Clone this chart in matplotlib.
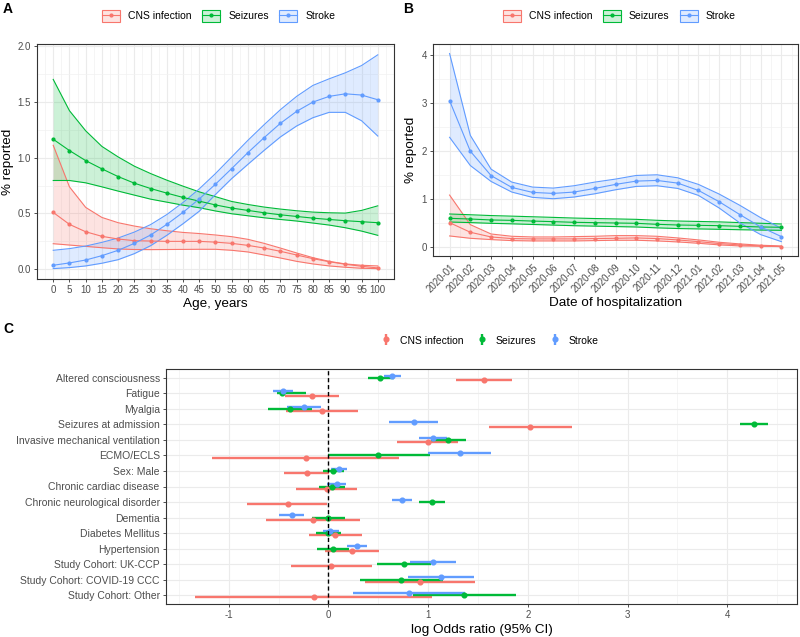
import numpy as np
import matplotlib.pyplot as plt
from matplotlib.lines import Line2D
from matplotlib.patches import Patch
from matplotlib.legend_handler import HandlerTuple
from matplotlib.ticker import MultipleLocator

plt.rcParams['font.family'] = ['Liberation Sans', 'DejaVu Sans']
plt.rcParams['axes.unicode_minus'] = False

RED, GREEN, BLUE = '#F8766D', '#00BA38', '#619CFF'
names = ['CNS infection', 'Seizures', 'Stroke']
colors = [RED, GREEN, BLUE]

# ---- panel A: by age ----
age = list(range(0, 101, 5))
cns_age = [0.509, 0.402, 0.336, 0.295, 0.271, 0.256, 0.253, 0.25, 0.25, 0.25, 0.243,
           0.232, 0.214, 0.19, 0.161, 0.128, 0.095, 0.068, 0.045, 0.027, 0.012]
cns_age_hi = [1.11, 0.738, 0.554, 0.464, 0.417, 0.387, 0.363, 0.345, 0.33, 0.32, 0.307,
              0.292, 0.268, 0.232, 0.19, 0.146, 0.104, 0.071, 0.048, 0.036, 0.03]
cns_age_lo = [0.229, 0.217, 0.205, 0.193, 0.182, 0.177, 0.176, 0.177, 0.178, 0.179, 0.179,
              0.17, 0.155, 0.128, 0.101, 0.071, 0.048, 0.03, 0.018, 0.009, 0.006]
sz_age = [1.164, 1.063, 0.973, 0.899, 0.830, 0.771, 0.723, 0.682, 0.643, 0.610, 0.576,
          0.548, 0.527, 0.506, 0.488, 0.473, 0.458, 0.446, 0.435, 0.426, 0.417]
sz_age_hi = [1.70, 1.42, 1.24, 1.10, 1.006, 0.923, 0.857, 0.798, 0.744, 0.693, 0.650,
             0.607, 0.58, 0.557, 0.539, 0.524, 0.512, 0.506, 0.503, 0.527, 0.568]
sz_age_lo = [0.795, 0.795, 0.774, 0.738, 0.70, 0.664, 0.628, 0.601, 0.574, 0.551, 0.522,
             0.497, 0.479, 0.461, 0.446, 0.432, 0.414, 0.396, 0.372, 0.342, 0.304]
st_age = [0.036, 0.057, 0.083, 0.122, 0.17, 0.232, 0.307, 0.402, 0.51, 0.63, 0.762,
          0.902, 1.045, 1.179, 1.307, 1.414, 1.497, 1.548, 1.571, 1.56, 1.518]
st_age_hi = [0.17, 0.185, 0.208, 0.241, 0.28, 0.333, 0.40, 0.49, 0.598, 0.72, 0.857,
             1.006, 1.155, 1.295, 1.429, 1.548, 1.646, 1.705, 1.759, 1.824, 1.92]
st_age_lo = [0.006, 0.015, 0.03, 0.054, 0.086, 0.14, 0.211, 0.304, 0.408, 0.52, 0.67,
             0.8125, 0.94, 1.065, 1.185, 1.283, 1.357, 1.405, 1.405, 1.33, 1.193]

# ---- panel B: by month of hospitalization ----
months = ['2020-01', '2020-02', '2020-03', '2020-04', '2020-05', '2020-06', '2020-07',
          '2020-08', '2020-09', '2020-10', '2020-11', '2020-12', '2021-01', '2021-02',
          '2021-03', '2021-04', '2021-05']
cns_m = [0.507, 0.306, 0.208, 0.174, 0.167, 0.167, 0.167, 0.174, 0.18, 0.1875, 0.174,
         0.146, 0.11, 0.07, 0.042, 0.02, 0.007]
cns_m_hi = [1.083, 0.465, 0.27, 0.222, 0.208, 0.208, 0.215, 0.222, 0.236, 0.236, 0.222,
            0.1875, 0.146, 0.097, 0.0625, 0.035, 0.02]
cns_m_lo = [0.229, 0.18, 0.153, 0.132, 0.125, 0.125, 0.125, 0.132, 0.139, 0.139, 0.125,
            0.104, 0.076, 0.042, 0.02, 0.014, 0.007]
sz_m = [0.597, 0.583, 0.563, 0.555, 0.54, 0.528, 0.514, 0.507, 0.5, 0.493, 0.472,
        0.458, 0.451, 0.444, 0.43, 0.417, 0.41]
sz_m_hi = [0.688, 0.672, 0.655, 0.643, 0.63, 0.617, 0.603, 0.593, 0.585, 0.576, 0.556,
           0.541, 0.532, 0.523, 0.508, 0.494, 0.479]
sz_m_lo = [0.52, 0.508, 0.493, 0.482, 0.469, 0.456, 0.443, 0.434, 0.425, 0.416, 0.398,
           0.384, 0.376, 0.368, 0.359, 0.352, 0.347]
st_m = [3.056, 2.0, 1.49, 1.243, 1.139, 1.118, 1.146, 1.222, 1.306, 1.375, 1.389,
        1.333, 1.18, 0.944, 0.674, 0.417, 0.215]
st_m_hi = [4.04, 2.33, 1.625, 1.354, 1.25, 1.229, 1.278, 1.354, 1.417, 1.493, 1.507,
           1.444, 1.306, 1.104, 0.868, 0.611, 0.389]
st_m_lo = [2.29, 1.70, 1.368, 1.146, 1.035, 1.007, 1.042, 1.11, 1.194, 1.264, 1.278,
           1.222, 1.076, 0.8125, 0.5, 0.257, 0.11]

# ---- panel C: log odds ratios ----
factors = ['Altered consciousness', 'Fatigue', 'Myalgia', 'Seizures at admission',
           'Invasive mechanical ventilation', 'ECMO/ECLS', 'Sex: Male',
           'Chronic cardiac disease', 'Chronic neurological disorder', 'Dementia',
           'Diabetes Mellitus', 'Hypertension', 'Study Cohort: UK-CCP',
           'Study Cohort: COVID-19 CCC', 'Study Cohort: Other']
cns_or = [1.56, -0.17, -0.07, 2.02, 1.00, -0.23, -0.22, -0.01, -0.41, -0.16, 0.07, 0.24, 0.03, 0.92, -0.15]
cns_lo = [1.28, -0.44, -0.43, 1.61, 0.69, -1.17, -0.45, -0.33, -0.82, -0.63, -0.20, -0.03, -0.38, 0.37, -1.34]
cns_hi = [1.84, 0.11, 0.30, 2.44, 1.30, 0.71, 0.01, 0.29, -0.01, 0.32, 0.34, 0.51, 0.44, 1.47, 1.04]
sz_or = [0.52, -0.47, -0.39, 4.27, 1.20, 0.50, 0.05, 0.04, 1.04, 0.00, 0.00, 0.05, 0.76, 0.73, 1.36]
sz_lo = [0.40, -0.52, -0.61, 4.13, 1.03, 0.00, -0.06, -0.10, 0.91, -0.17, -0.13, -0.12, 0.49, 0.32, 0.85]
sz_hi = [0.66, -0.23, -0.17, 4.41, 1.38, 1.02, 0.16, 0.17, 1.17, 0.17, 0.13, 0.21, 1.03, 1.15, 1.88]
st_or = [0.64, -0.46, -0.25, 0.86, 1.05, 1.32, 0.11, 0.09, 0.74, -0.37, 0.02, 0.29, 1.05, 1.13, 0.81]
st_lo = [0.56, -0.56, -0.42, 0.61, 0.91, 1.00, 0.03, -0.01, 0.64, -0.50, -0.06, 0.19, 0.82, 0.80, 0.25]
st_hi = [0.73, -0.36, -0.08, 1.10, 1.19, 1.63, 0.19, 0.18, 0.84, -0.25, 0.11, 0.39, 1.28, 1.46, 1.37]

W, H = 800, 637
fig = plt.figure(figsize=(W / 100, H / 100), dpi=100)


def box(l, t, r, b):
    return [l / W, 1 - b / H, (r - l) / W, (b - t) / H]


def style(ax):
    ax.set_facecolor('white')
    for s in ax.spines.values():
        s.set_color('#333333')
        s.set_linewidth(0.8)
    ax.grid(True, which='major', color='#EBEBEB', lw=0.8, zorder=0)
    ax.grid(True, which='minor', color='#F2F2F2', lw=0.5, zorder=0)
    ax.set_axisbelow(True)
    ax.tick_params(which='major', length=2.5, width=0.6, color='#333333',
                   labelsize=7, labelcolor='#4D4D4D', pad=2)
    ax.tick_params(which='minor', length=0)


def band_legend(ax, x, y):
    hs = []
    for c in colors:
        p = Patch(facecolor=c + '33', edgecolor=c, lw=0.8)
        ln = Line2D([], [], color=c, lw=0.8, marker='o', markersize=2)
        hs.append((p, ln))
    ax.legend(hs, names, handler_map={tuple: HandlerTuple(ndivide=1, pad=0)},
              loc='center', bbox_to_anchor=(x, y), ncol=3, frameon=False,
              fontsize=7.5, handlelength=1.75, handleheight=1.5, handletextpad=0.75,
              columnspacing=1.0)


def ribbons(ax, x, series):
    for (m, lo, hi), c in zip(series, colors):
        ax.fill_between(x, lo, hi, color=c, alpha=0.2, lw=0, zorder=2)
        ax.plot(x, lo, color=c, lw=0.8, zorder=3)
        ax.plot(x, hi, color=c, lw=0.8, zorder=3)
        ax.plot(x, m, color=c, lw=0.8, marker='o', markersize=2, zorder=4)


# Panel A
axA = fig.add_axes(box(37, 44, 394, 279))
style(axA)
ribbons(axA, age, [(cns_age, cns_age_lo, cns_age_hi),
                   (sz_age, sz_age_lo, sz_age_hi),
                   (st_age, st_age_lo, st_age_hi)])
axA.set_xlim(-5, 105)
axA.set_ylim(-0.087, 2.017)
axA.set_xticks(age)
axA.xaxis.set_minor_locator(MultipleLocator(2.5))
axA.yaxis.set_major_locator(MultipleLocator(0.5))
axA.yaxis.set_minor_locator(MultipleLocator(0.25))
axA.yaxis.set_major_formatter(plt.FuncFormatter(lambda v, p: f'{v:.1f}'))
axA.set_xlabel('Age, years', fontsize=9.7)
axA.set_ylabel('% reported', fontsize=9.7)
axA.xaxis.set_label_coords(0.5, -0.081)
axA.yaxis.set_label_coords(-0.064, 0.5)
band_legend(axA, 0.509, 1.119)

# Panel B
axB = fig.add_axes(box(433, 44, 798, 256))
style(axB)
xm = np.arange(len(months))
ribbons(axB, xm, [(cns_m, cns_m_lo, cns_m_hi),
                  (sz_m, sz_m_lo, sz_m_hi),
                  (st_m, st_m_lo, st_m_hi)])
axB.set_xlim(-0.8, len(months) - 0.2)
axB.set_ylim(-0.19, 4.24)
axB.set_xticks(xm)
axB.set_xticklabels(months, rotation=45, ha='right', rotation_mode='anchor')
axB.xaxis.set_minor_locator(MultipleLocator(0.5))
axB.yaxis.set_major_locator(MultipleLocator(1))
axB.yaxis.set_minor_locator(MultipleLocator(0.5))
axB.set_xlabel('Date of hospitalization', fontsize=9.7)
axB.set_ylabel('% reported', fontsize=9.7)
axB.xaxis.set_label_coords(0.5, -0.195)
axB.yaxis.set_label_coords(-0.044, 0.5)
band_legend(axB, 0.51, 1.132)

# Panel C
axC = fig.add_axes(box(166, 369, 797, 604))
style(axC)
rows = np.arange(len(factors), 0, -1)
dodge = 0.16
handles = []
for (est, lo, hi), c, off in zip([(cns_or, cns_lo, cns_hi), (sz_or, sz_lo, sz_hi),
                                  (st_or, st_lo, st_hi)], colors, [-dodge, 0, dodge]):
    y = rows + off
    axC.hlines(y, lo, hi, color=c, lw=1.7, zorder=3)
    axC.plot(est, y, 'o', color=c, markersize=3.4, zorder=4)
    h = axC.errorbar([np.nan], [np.nan], yerr=[1], fmt='o', color=c,
                     markersize=3.4, elinewidth=1.7, capsize=0)
    handles.append(h)
axC.axvline(0, color='black', ls=(0, (3, 2)), lw=1, zorder=5)
axC.set_xlim(-1.63, 4.70)
axC.set_ylim(0.42, len(factors) + 0.58)
axC.set_yticks(rows)
axC.set_yticklabels(factors)
axC.xaxis.set_major_locator(MultipleLocator(1))
axC.xaxis.set_minor_locator(MultipleLocator(0.5))
axC.grid(False, axis='y', which='minor')
axC.tick_params(axis='y', labelsize=7.5)
axC.set_xlabel('log Odds ratio (95% CI)', fontsize=9.7)
axC.xaxis.set_label_coords(0.5, -0.085)
axC.legend(handles, names, loc='center', bbox_to_anchor=(0.513, 1.12), ncol=3,
           frameon=False, fontsize=7.5, handlelength=1.0, handleheight=1.5,
           handletextpad=0.8, columnspacing=1.3)

for lab, x, y in [('A', 3, 9), ('B', 403, 9), ('C', 3, 329)]:
    fig.text(x / W, 1 - y / H, lab, fontsize=10, fontweight='bold', va='center', ha='left')

fig.savefig('out.png', dpi=100)
